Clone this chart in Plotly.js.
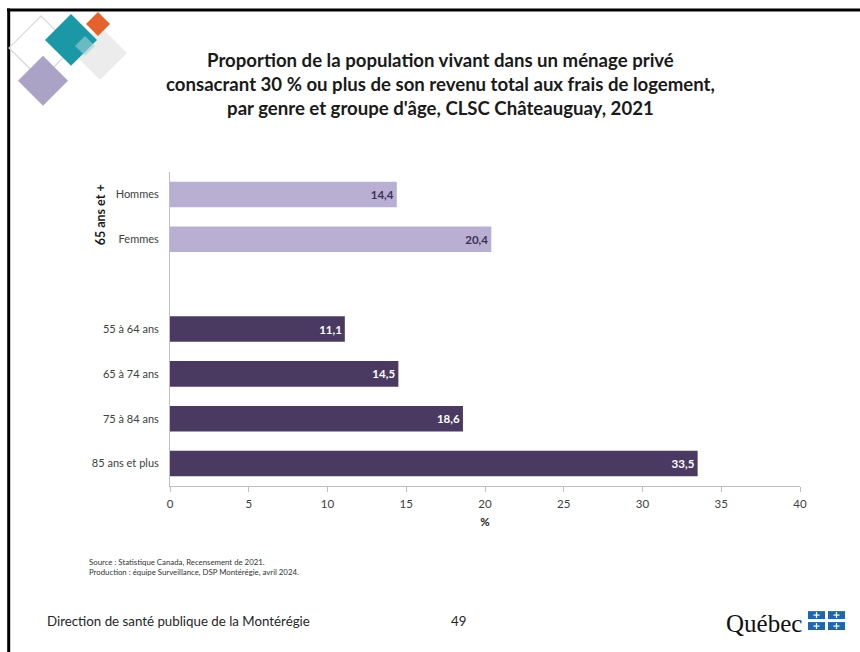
<!DOCTYPE html>
<html>
<head>
<meta charset="utf-8">
<script src="https://cdn.plot.ly/plotly-3.0.1.min.js"></script>
<style>html,body{margin:0;padding:0;background:#fff;}#chart{width:860px;height:652px;}</style>
</head>
<body>
<div id="chart"></div>
<script>
// ---- data ----
const categories = ["Hommes", "Femmes", " ", "55 à 64 ans", "65 à 74 ans", "75 à 84 ans", "85 ans et plus"];
const genreCats = ["Hommes", "Femmes"];
const genreValues = [14.4, 20.4];
const ageCats = ["55 à 64 ans", "65 à 74 ans", "75 à 84 ans", "85 ans et plus"];
const ageValues = [11.1, 14.5, 18.6, 33.5];
const xTicks = [0, 5, 10, 15, 20, 25, 30, 35, 40];

// ---- geometry helpers (pixel -> paper) ----
const W = 860, H = 652;
const L = 170, R = 800, T = 171.5, B = 486.5;
const px = x => (x - L) / (R - L);
const py = y => (B - y) / (B - T);

function diamond(cx, cy, h, fill, line, opacity) {
  const p = `M ${px(cx)} ${py(cy - h)} L ${px(cx + h)} ${py(cy)} L ${px(cx)} ${py(cy + h)} L ${px(cx - h)} ${py(cy)} Z`;
  return {type: 'path', xref: 'paper', yref: 'paper', path: p,
          fillcolor: fill, opacity: opacity == null ? 1 : opacity,
          line: line || {width: 0}, layer: 'above'};
}
function rect(x0, y0, x1, y1, fill, lineColor, lw) {
  return {type: 'rect', xref: 'paper', yref: 'paper', x0: px(x0), x1: px(x1), y0: py(y1), y1: py(y0),
          fillcolor: fill, line: {color: lineColor || fill, width: lw || 0}, layer: 'above'};
}

const font = "Lato, 'Open Sans', sans-serif";

const traces = [
  {type: 'bar', orientation: 'h', y: genreCats, x: genreValues, width: 0.57,
   marker: {color: '#b9afd2'}, texttemplate: '%{x:.1f}', textposition: 'inside',
   insidetextanchor: 'end', textfont: {family: font, size: 11.5, color: '#3e3158', weight: 'bold'},
   hoverinfo: 'skip', cliponaxis: false},
  {type: 'bar', orientation: 'h', y: ageCats, x: ageValues, width: 0.57,
   marker: {color: '#4a3a62'}, texttemplate: '%{x:.1f}', textposition: 'inside',
   insidetextanchor: 'end', textfont: {family: font, size: 11.5, color: '#ffffff', weight: 'bold'},
   hoverinfo: 'skip', cliponaxis: false}
];

const shapes = [
  // frame lines of the slide screenshot
  {type: 'line', xref: 'paper', yref: 'paper', x0: px(7), x1: px(862), y0: py(9), y1: py(9), line: {color: '#000', width: 3}, layer: 'above'},
  {type: 'line', xref: 'paper', yref: 'paper', x0: px(8.7), x1: px(8.7), y0: py(7.5), y1: py(655), line: {color: '#000', width: 3}, layer: 'above'},
  // logo diamonds
  diamond(41, 47, 32, 'rgba(0,0,0,0)', {color: '#d8d8d8', width: 1.2}),
  diamond(100, 52, 27, '#ececec'),
  diamond(43, 80, 25, '#aaa3c6'),
  diamond(71, 39, 26, '#1b98a6'),
  diamond(98, 23, 12, '#e4632c'),
  diamond(85, 45, 10, '#9fd0d5', null, 0.6),
  // Quebec flags
  rect(808, 612, 825, 620, '#2265ae'),
  rect(828, 612, 845, 620, '#2265ae'),
  rect(808, 623, 825, 631, '#2265ae'),
  rect(828, 623, 845, 631, '#2265ae')
];
// white crosses in flags
[[816.5, 616], [836.5, 616], [816.5, 627], [836.5, 627]].forEach(([cx, cy]) => {
  shapes.push(rect(cx - 0.6, cy - 3, cx + 0.6, cy + 3, '#ffffff'));
  shapes.push(rect(cx - 3, cy - 0.6, cx + 3, cy + 0.6, '#ffffff'));
});

const annotations = [
  {xref: 'paper', yref: 'paper', x: px(440), y: py(83.5), xanchor: 'center', yanchor: 'middle', showarrow: false,
   text: "Proportion de la population vivant dans un ménage privé<br>consacrant 30 % ou plus de son revenu total aux frais de logement,<br>par genre et groupe d'âge, CLSC Châteauguay, 2021",
   font: {family: font, size: 18.6, color: '#1a1a1a', weight: 'bold'}, align: 'center'},
  {xref: 'paper', yref: 'paper', x: px(100), y: py(215), xanchor: 'center', yanchor: 'middle', showarrow: false,
   text: '65 ans et +', textangle: -90, font: {family: font, size: 12.5, color: '#1a1a1a', weight: 'bold'}},
  {xref: 'paper', yref: 'paper', x: px(87), y: py(568), xanchor: 'left', yanchor: 'middle', showarrow: false, align: 'left',
   text: 'Source : Statistique Canada, Recensement de 2021.<br>Production : équipe Surveillance, DSP Montérégie, avril 2024.',
   font: {family: font, size: 7.8, color: '#333333'}},
  {xref: 'paper', yref: 'paper', x: px(45), y: py(622), xanchor: 'left', yanchor: 'middle', showarrow: false,
   text: 'Direction de santé publique de la Montérégie', font: {family: font, size: 13.3, color: '#262626'}},
  {xref: 'paper', yref: 'paper', x: px(458), y: py(622), xanchor: 'center', yanchor: 'middle', showarrow: false,
   text: '49', font: {family: font, size: 13.3, color: '#262626'}},
  {xref: 'paper', yref: 'paper', x: px(804), y: py(624), xanchor: 'right', yanchor: 'middle', showarrow: false,
   text: 'Québec', font: {family: "'Liberation Serif', serif", size: 25, color: '#111'}}
];

const layout = {
  width: W, height: H,
  margin: {l: L, r: W - R, t: T, b: H - B, pad: 0},
  paper_bgcolor: '#ffffff', plot_bgcolor: '#ffffff',
  barmode: 'overlay', showlegend: false,
  separators: ', ',
  font: {family: font, color: '#404040'},
  xaxis: {range: [0, 40], tickvals: xTicks, ticktext: xTicks.map(String), showgrid: false, zeroline: false,
          showline: true, linecolor: '#bfbfbf', linewidth: 1, ticks: 'outside', ticklen: 5, tickcolor: '#bfbfbf',
          ticklabelstandoff: 2,
          tickfont: {family: font, size: 11.5, color: '#404040'},
          title: {text: '%', font: {family: font, size: 11.5, color: '#1a1a1a', weight: 'bold'}, standoff: 9},
          fixedrange: true},
  yaxis: {type: 'category', categoryorder: 'array', categoryarray: categories, range: [6.5, -0.5],
          showgrid: false, zeroline: false, showline: true, linecolor: '#bfbfbf', linewidth: 1, ticks: '',
          ticklabelstandoff: 8,
          tickfont: {family: font, size: 11, color: '#404040'}, fixedrange: true},
  shapes: shapes,
  annotations: annotations
};

Plotly.newPlot('chart', traces, layout, {displayModeBar: false, staticPlot: true});
</script>
</body>
</html>
